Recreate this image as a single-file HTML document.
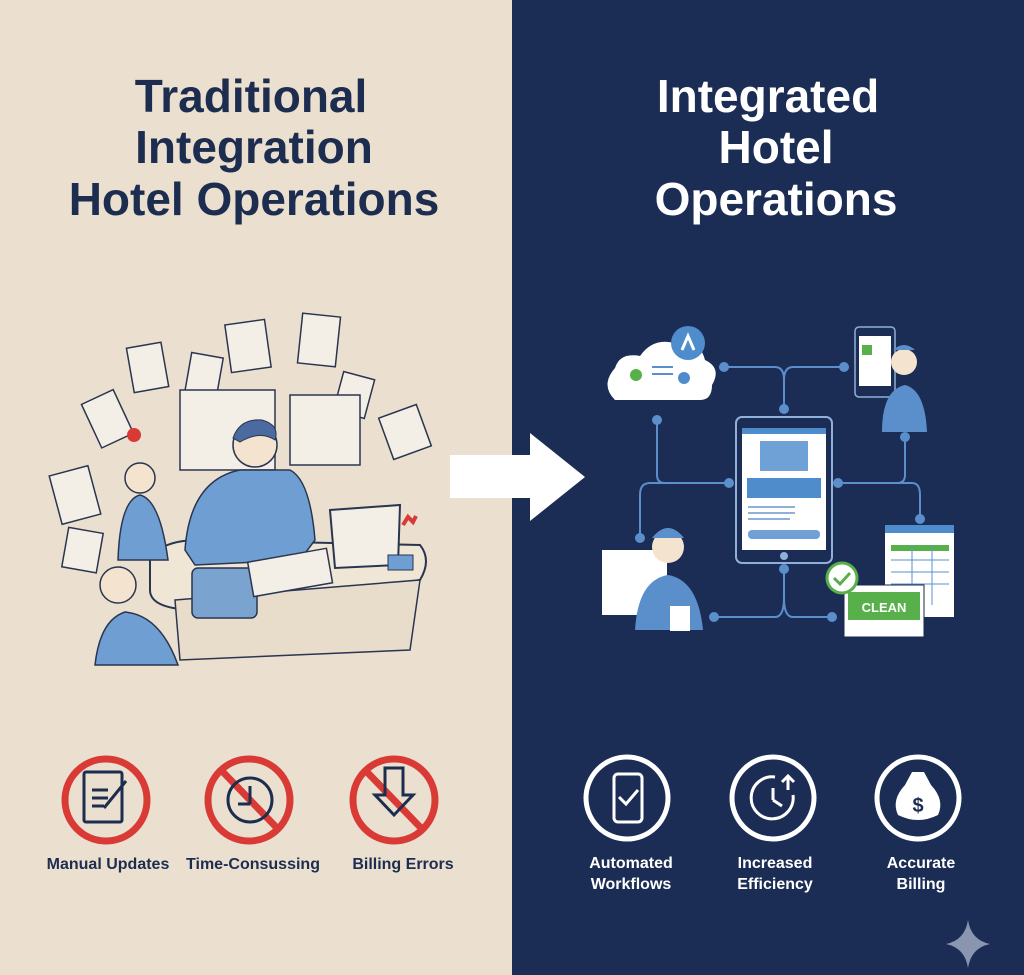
<!DOCTYPE html>
<html><head><meta charset="utf-8"><style>
html,body{margin:0;padding:0;width:1024px;height:975px;overflow:hidden}
text{font-family:"Liberation Sans",sans-serif;font-weight:bold}
</style></head><body>
<svg width="1024" height="975" viewBox="0 0 1024 975" xmlns="http://www.w3.org/2000/svg">
<rect width="512" height="975" fill="#ebe0cf"/>
<rect x="512" width="512" height="975" fill="#1b2d54"/>
<g font-size="46" text-anchor="middle">
<text x="251" y="112" fill="#1d2d4f">Traditional</text>
<text x="254" y="163" fill="#1d2d4f">Integration</text>
<text x="254" y="215" fill="#1d2d4f">Hotel Operations</text>
<text x="768" y="112" fill="#fff">Integrated</text>
<text x="776" y="163" fill="#fff">Hotel</text>
<text x="776" y="215" fill="#fff">Operations</text>
</g>
<!-- left illustration -->
<g stroke="#2a3550" stroke-width="1.5" fill="#f4efe6">
<rect x="130" y="345" width="35" height="45" transform="rotate(-10 147 367)"/>
<rect x="188" y="355" width="32" height="40" transform="rotate(10 204 375)"/>
<rect x="228" y="322" width="40" height="48" transform="rotate(-8 248 346)"/>
<rect x="300" y="315" width="38" height="50" transform="rotate(6 319 340)"/>
<rect x="338" y="375" width="32" height="40" transform="rotate(15 354 395)"/>
<rect x="385" y="410" width="40" height="44" transform="rotate(-20 405 432)"/>
<rect x="90" y="395" width="35" height="48" transform="rotate(-25 107 419)"/>
<rect x="55" y="470" width="40" height="50" transform="rotate(-15 75 495)"/>
<rect x="65" y="530" width="35" height="40" transform="rotate(10 82 550)"/>
<rect x="290" y="395" width="70" height="70"/>
<rect x="180" y="390" width="95" height="80"/>
</g>
<circle cx="134" cy="435" r="7" fill="#d93a36"/>
<path d="M150 560 Q160 540 200 540 L420 545 Q432 560 420 580 L200 610 Q150 610 150 590Z" fill="#efe6d6" stroke="#2a3550" stroke-width="2"/>
<path d="M175 600 L420 580 L410 650 L180 660Z" fill="#e8dccb" stroke="#2a3550" stroke-width="1.5"/>
<path d="M185 550 Q190 480 240 470 L290 470 Q310 480 315 540 L300 560 L195 565Z" fill="#6f9fd2" stroke="#2a3550" stroke-width="1.5"/>
<circle cx="255" cy="445" r="22" fill="#f4e3cf" stroke="#2a3550" stroke-width="1.5"/>
<path d="M233 438 Q240 418 262 420 Q280 425 275 440 Q260 430 240 442Z" fill="#4b6aa0" stroke="#2a3550"/>
<path d="M118 560 Q120 500 140 495 Q160 500 168 560Z" fill="#6f9fd2" stroke="#2a3550" stroke-width="1.5"/>
<circle cx="140" cy="478" r="15" fill="#f4e3cf" stroke="#2a3550" stroke-width="1.5"/>
<path d="M95 665 Q100 620 125 612 Q160 615 178 665Z" fill="#6f9fd2" stroke="#2a3550" stroke-width="1.5"/>
<circle cx="118" cy="585" r="18" fill="#f4e3cf" stroke="#2a3550" stroke-width="1.5"/>
<rect x="192" y="568" width="65" height="50" rx="6" fill="#7aa4cf" stroke="#2a3550" stroke-width="1.5"/>
<rect x="250" y="555" width="80" height="35" fill="#f4efe6" stroke="#2a3550" stroke-width="1.5" transform="rotate(-10 290 572)"/>
<path d="M330 510 L400 505 L398 565 L335 568Z" fill="#f4efe6" stroke="#2a3550" stroke-width="2"/>
<rect x="388" y="555" width="25" height="15" fill="#6f9fd2" stroke="#2a3550"/>
<path d="M403 525 l5 -8 l5 5 l3 -6" stroke="#d93a36" stroke-width="4" fill="none"/>
<!-- arrow -->
<path d="M450 455 L530 455 L530 433 L585 477 L530 521 L530 498 L450 498Z" fill="#fff"/>
<!-- right diagram connectors -->
<g stroke="#5b8fcc" stroke-width="2" fill="none">
<path d="M724 367 L775 367 Q784 367 784 380 L784 409 M784 380 Q784 367 793 367 L844 367"/>
<path d="M657 420 L657 475 Q657 483 665 483 L729 483 M665 483 L650 483 Q640 483 640 495 L640 538"/>
<path d="M905 437 L905 475 Q905 483 897 483 L838 483 M897 483 L912 483 Q920 483 920 495 L920 519"/>
<path d="M784 569 L784 598 Q784 617 775 617 L714 617 M784 598 Q784 617 793 617 L832 617"/>
</g>
<g fill="#5b8fcc">
<circle cx="724" cy="367" r="5"/><circle cx="844" cy="367" r="5"/><circle cx="784" cy="409" r="5"/>
<circle cx="657" cy="420" r="5"/><circle cx="729" cy="483" r="5"/><circle cx="640" cy="538" r="5"/>
<circle cx="905" cy="437" r="5"/><circle cx="838" cy="483" r="5"/><circle cx="920" cy="519" r="5"/>
<circle cx="784" cy="569" r="5"/><circle cx="714" cy="617" r="5"/><circle cx="832" cy="617" r="5"/>
</g>
<!-- cloud -->
<path d="M615 400 Q600 385 615 368 Q620 352 640 356 Q655 335 680 345 Q700 340 705 360 Q722 368 712 385 Q712 400 700 400Z" fill="#fff"/>
<circle cx="688" cy="343" r="17" fill="#4f8ccc"/>
<path d="M682 350 L688 336 L694 350" stroke="#fff" stroke-width="3" fill="none"/>
<circle cx="636" cy="375" r="6" fill="#58b04a"/><circle cx="684" cy="378" r="6" fill="#4f8ccc"/>
<g stroke="#5b8fcc" stroke-width="2"><line x1="652" y1="367" x2="673" y2="367"/><line x1="652" y1="374" x2="673" y2="374"/></g>
<!-- tablet -->
<rect x="736" y="417" width="96" height="146" rx="6" fill="#1b2d54" stroke="#8fb0d8" stroke-width="2"/>
<rect x="742" y="428" width="84" height="122" fill="#fff"/>
<rect x="742" y="428" width="84" height="6" fill="#4f8ccc"/>
<rect x="760" y="441" width="48" height="30" fill="#6fa1d6"/>
<rect x="747" y="478" width="74" height="20" fill="#4f8ccc"/>
<rect x="748" y="530" width="72" height="9" rx="4" fill="#6fa1d6"/>
<g stroke="#8fb0d8" stroke-width="2"><line x1="748" y1="507" x2="795" y2="507"/><line x1="748" y1="513" x2="795" y2="513"/><line x1="748" y1="519" x2="790" y2="519"/></g>
<circle cx="784" cy="556" r="4" fill="#8fb0d8"/>
<!-- top right phone + woman -->
<rect x="855" y="327" width="40" height="70" rx="4" fill="#1b2d54" stroke="#8fb0d8" stroke-width="1.5"/>
<rect x="859" y="336" width="32" height="50" fill="#fff"/>
<rect x="862" y="345" width="10" height="10" fill="#58b04a"/>
<path d="M882 432 Q882 390 905 385 Q925 390 927 432Z" fill="#5b8fcc"/>
<circle cx="904" cy="362" r="13" fill="#f4e3cf"/>
<path d="M893 350 Q904 340 915 350Z" fill="#5b8fcc"/>
<!-- bottom left doc + woman -->
<rect x="602" y="550" width="65" height="65" fill="#fff"/>
<path d="M635 630 Q638 580 668 575 Q698 580 703 630Z" fill="#5b8fcc"/>
<circle cx="668" cy="547" r="16" fill="#f4e3cf"/>
<path d="M652 538 Q668 518 684 538Z" fill="#5b8fcc"/>
<rect x="670" y="606" width="20" height="25" fill="#fff"/>
<!-- spreadsheet & clean -->
<rect x="885" y="525" width="69" height="92" fill="#fff"/>
<rect x="885" y="525" width="69" height="8" fill="#4f8ccc"/>
<rect x="891" y="545" width="58" height="6" fill="#58b04a"/>
<g stroke="#5b8fcc" stroke-width="1"><line x1="891" y1="560" x2="949" y2="560"/><line x1="891" y1="572" x2="949" y2="572"/><line x1="891" y1="584" x2="949" y2="584"/><line x1="912" y1="545" x2="912" y2="605"/><line x1="932" y1="545" x2="932" y2="605"/></g>
<rect x="844" y="585" width="80" height="52" fill="#fff" stroke="#1a2a4a"/>
<rect x="848" y="592" width="72" height="28" fill="#58b04a"/>
<text x="884" y="612" font-size="13" fill="#fff" text-anchor="middle">CLEAN</text>
<circle cx="842" cy="578" r="15" fill="#fff" stroke="#58b04a" stroke-width="3"/>
<path d="M834 578 l6 6 l10 -11" stroke="#58b04a" stroke-width="3" fill="none"/>
<!-- left icons -->
<g fill="none" stroke="#d93a36" stroke-width="7">
<circle cx="106" cy="800" r="41"/><circle cx="249" cy="800" r="41"/><circle cx="394" cy="800" r="41"/>
<line x1="222" y1="771" x2="277" y2="828"/><line x1="366" y1="771" x2="421" y2="828"/>
</g>
<g fill="none" stroke="#1d2d4f" stroke-width="3">
<rect x="84" y="772" width="38" height="50" rx="2"/><line x1="92" y1="790" x2="108" y2="790"/><line x1="92" y1="798" x2="108" y2="798"/><line x1="92" y1="806" x2="104" y2="806"/>
<line x1="104" y1="808" x2="126" y2="781"/>
<circle cx="250" cy="800" r="22"/><line x1="238" y1="804" x2="250" y2="804"/><line x1="250" y1="804" x2="250" y2="786"/>
<path d="M385 768 L403 768 L403 795 L413 795 L394 815 L375 795 L385 795Z"/>
</g>
<g font-size="16" fill="#1d2d4f" text-anchor="middle">
<text x="108" y="869">Manual Updates</text><text x="253" y="869">Time-Consussing</text><text x="403" y="869">Billing Errors</text>
</g>
<!-- right icons -->
<g fill="none" stroke="#fff" stroke-width="5">
<circle cx="627" cy="798" r="41"/><circle cx="773" cy="798" r="41"/><circle cx="918" cy="798" r="41"/>
</g>
<g fill="none" stroke="#fff" stroke-width="3">
<rect x="614" y="774" width="28" height="48" rx="4"/><path d="M619 797 l7 7 l12 -14"/>
<path d="M793 795 A21 21 0 1 1 775 777"/><line x1="773" y1="788" x2="773" y2="800"/><line x1="773" y1="800" x2="782" y2="806"/><path d="M788 790 l0 -14 m-6 6 l6 -6 l6 6"/>
</g>
<path d="M905 785 L912 772 L924 772 L931 785 Q945 800 938 815 Q918 825 898 815 Q891 800 905 785Z" fill="#fff"/>
<text x="918" y="812" font-size="20" fill="#1b2d54" text-anchor="middle">$</text>
<g font-size="16" fill="#fff" text-anchor="middle">
<text x="631" y="868">Automated</text><text x="631" y="889">Workflows</text>
<text x="775" y="868">Increased</text><text x="775" y="889">Efficiency</text>
<text x="921" y="868">Accurate</text><text x="921" y="889">Billing</text>
</g>
<path d="M968 920 Q971 940 990 944 Q971 948 968 968 Q965 948 946 944 Q965 940 968 920Z" fill="#8a96b0"/>
</svg>
</body></html>
